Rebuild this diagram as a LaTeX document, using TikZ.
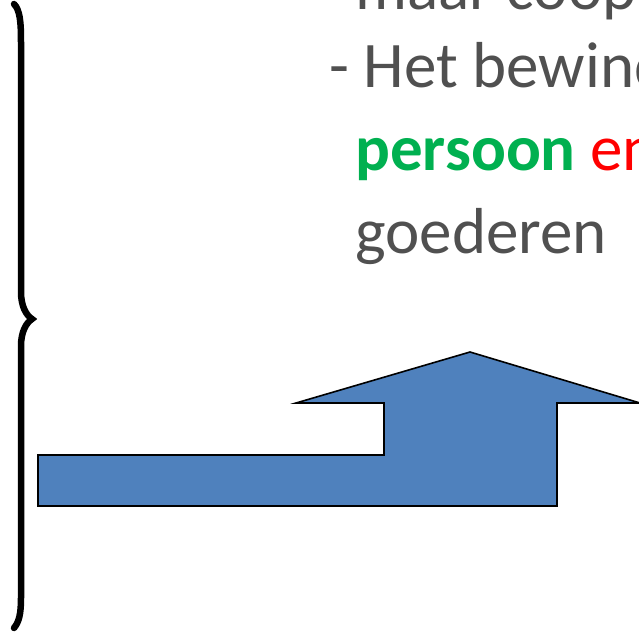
\documentclass[tikz,border=0pt]{standalone}
\usepackage{fontspec}
\setmainfont{Carlito}
\usepackage{xcolor}
\usepackage{tikz}
\usetikzlibrary{calc}

\definecolor{textgray}{HTML}{505050}
\definecolor{arrowblue}{HTML}{4F81BD}
\definecolor{okgreen}{HTML}{00B050}

\tikzset{
	regel/.style = {anchor = base west, inner sep = 0pt, text = textgray, font = \fontsize{65}{78}\selectfont},
	pijl/.style = {draw = black, line width = 1.6pt, fill = arrowblue, line join = miter},
	accolade/.style = {draw = black, line width = 6.5pt, line cap = round}
}

\begin{document}
\begin{tikzpicture}[x = 1pt, y = -1pt]
			\def\xMAX{639};
			\def\yMAX{632};
			\def\inspring{355};

			\useasboundingbox (0,0) rectangle (\xMAX,\yMAX);
			\clip (0,0) rectangle (\xMAX,\yMAX);

			\begin{scope}
				\path [accolade] (14,4) .. controls (20,10) and (21,22) .. (21,42)
					-- (21,292) .. controls (21,306) and (26,315) .. (32,319)
					.. controls (26,323) and (21,332) .. (21,346)
					-- (21,598) .. controls (21,614) and (19,622) .. (14,628);
			\end{scope}

			\begin{scope}
				\node [regel] (r0) at (\inspring,9) {maar coopt};
				\node [regel] (r1) at (329,87) {- Het bewind};
				\node [regel] (r2) at (\inspring,170) {\textbf{\textcolor{okgreen}{persoon}} \textcolor{red}{en}};
				\node [regel] (r3) at (\inspring,253) {goederen};
			\end{scope}

			\begin{scope}
				\coordinate (a) at (38,455);
				\coordinate (b) at (557,506);
				\coordinate (top) at (470,352);

				\path [pijl] (a) -- (384,455) -- (384,403) -- (296,403) -- (top)
					-- (640,403) -- (b |- 0,403) -- (b) -- (a |- b) -- cycle;
			\end{scope}
		\end{tikzpicture}
\end{document}
